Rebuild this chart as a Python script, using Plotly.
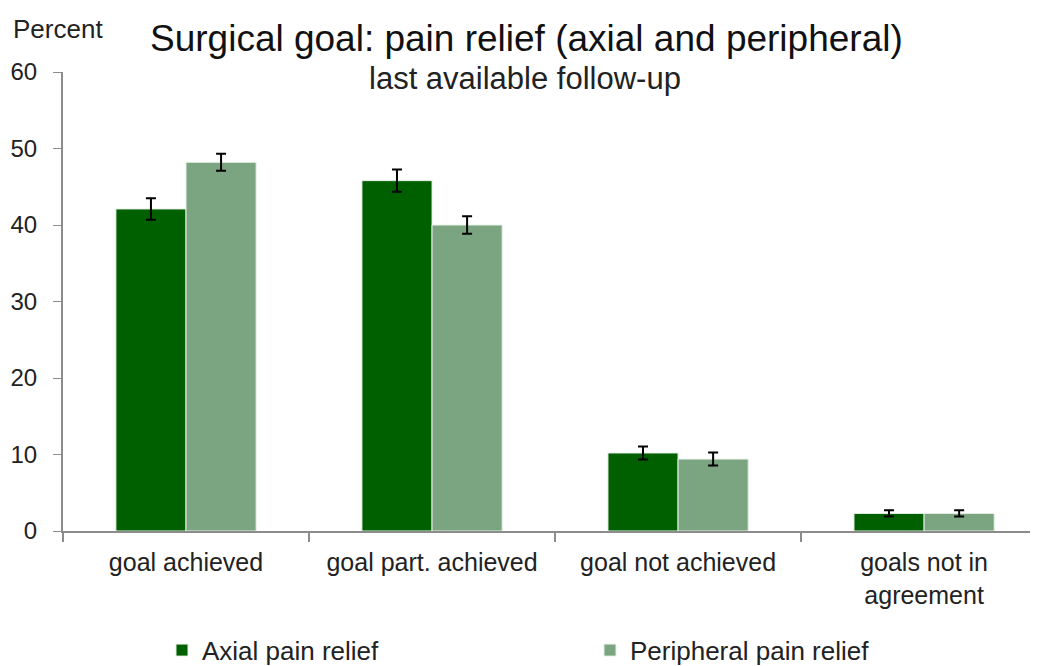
import plotly.graph_objects as go

categories = ["goal achieved", "goal part. achieved", "goal not achieved", "goals not in<br>agreement"]
axial = [42.1, 45.8, 10.2, 2.3]
axial_err = [1.4, 1.45, 0.85, 0.4]
peripheral = [48.2, 40.0, 9.4, 2.3]
peripheral_err = [1.1, 1.15, 0.85, 0.4]

font = "Liberation Sans, Arial, sans-serif"

fig = go.Figure()
fig.add_trace(go.Bar(
    x=categories, y=axial, name="Axial pain relief",
    marker=dict(color="#006000", line=dict(color="#e8f0e8", width=1)),
    error_y=dict(type="data", array=axial_err, color="black", thickness=2, width=5),
))
fig.add_trace(go.Bar(
    x=categories, y=peripheral, name="Peripheral pain relief",
    marker=dict(color="#7ba481", line=dict(color="#e8f0e8", width=1)),
    error_y=dict(type="data", array=peripheral_err, color="black", thickness=2, width=5),
))

# page body adds an 8px offset, so the figure is a bit smaller than the window
fig.update_layout(
    width=1030, height=658,
    margin=dict(l=55, r=0, t=64, b=135),
    paper_bgcolor="white", plot_bgcolor="white",
    font=dict(family=font, size=25, color="#222"),
    barmode="group", bargap=0.43, bargroupgap=0,
    showlegend=True,
    legend=dict(
        orientation="h", xref="container", yref="container",
        x=0.1495, xanchor="left", y=0.024, yanchor="middle",
        entrywidth=383, entrywidthmode="pixels", itemwidth=30,
        font=dict(size=26, color="#222"),
    ),
    annotations=[
        dict(text="Surgical goal: pain relief (axial and peripheral)", xref="paper", yref="paper",
             x=0.475, y=1.074, xanchor="center", yanchor="middle", showarrow=False,
             font=dict(size=37, color="#111")),
        dict(text="last available follow-up", xref="paper", yref="paper",
             x=0.474, y=0.985, xanchor="center", yanchor="middle", showarrow=False,
             font=dict(size=31, color="#222")),
        dict(text="Percent", xref="paper", yref="paper",
             x=-0.053, y=1.094, xanchor="left", yanchor="middle", showarrow=False,
             font=dict(size=26, color="#222")),
    ],
)
fig.update_xaxes(
    range=[-0.5, 3.463], automargin=False,
    showline=True, linecolor="#8c8c8c", linewidth=2,
    ticks="outside", tickson="boundaries", ticklen=9, tickcolor="#8c8c8c", tickwidth=2,
    showgrid=False, tickfont=dict(size=25), ticklabelstandoff=8,
)
fig.update_yaxes(
    range=[0, 60], dtick=10, automargin=False,
    showline=True, linecolor="#8c8c8c", linewidth=2,
    ticks="outside", ticklen=8, tickcolor="#8c8c8c", tickwidth=1,
    showgrid=False, zeroline=False, tickfont=dict(size=24), ticklabelstandoff=11,
)

fig.write_html("out.html")
